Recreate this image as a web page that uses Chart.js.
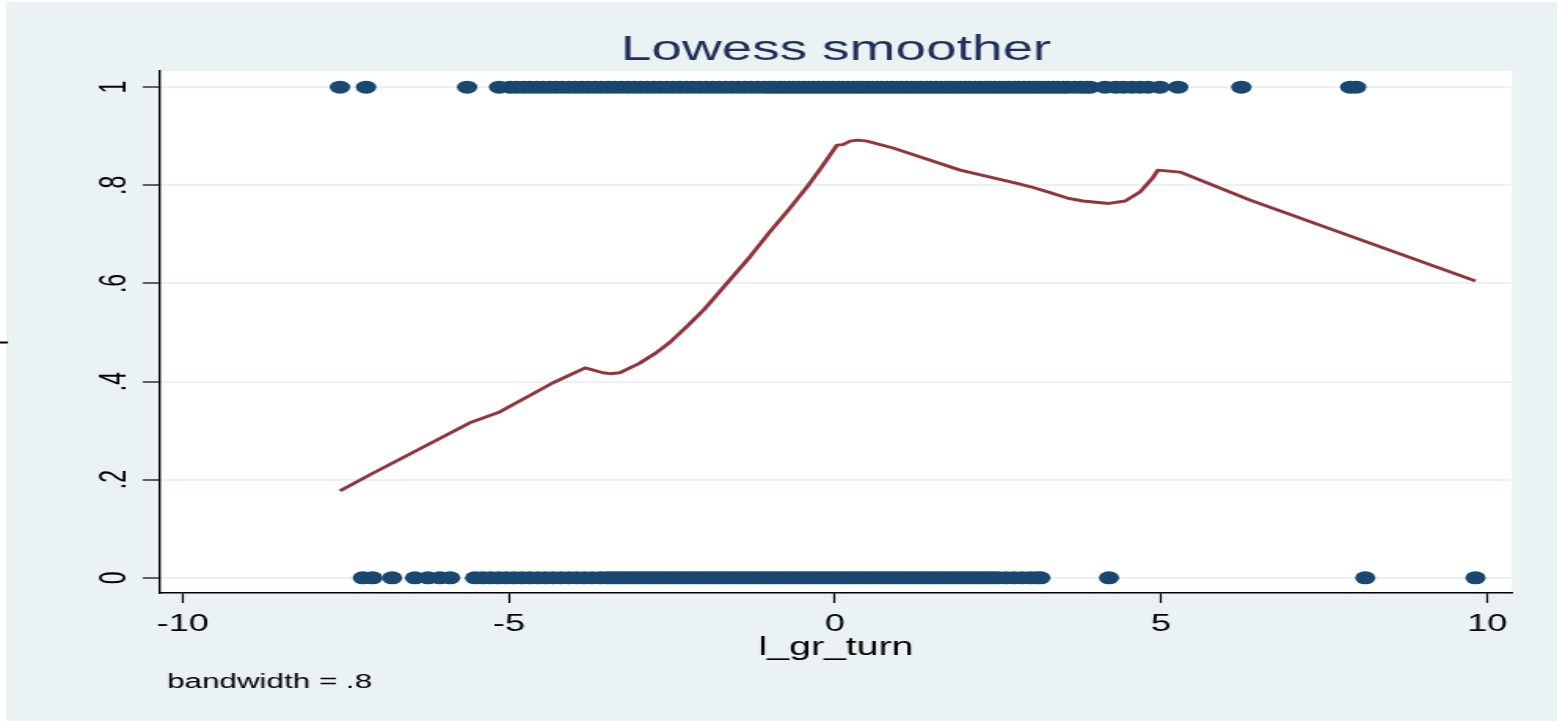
<!DOCTYPE html>
<html>
<head>
<meta charset="utf-8">
<script src="https://cdn.jsdelivr.net/npm/chart.js@4.4.1/dist/chart.umd.min.js"></script>
<style>
  html, body { margin: 0; padding: 0; background: #fff; overflow: hidden; }
  #wrap { width: 992px; height: 721px; transform: scaleX(1.5696); transform-origin: 0 0; }
</style>
</head>
<body>
<div id="wrap"><canvas id="lowess" width="992" height="721"></canvas></div>
<script>
// observations with outcome = 1
var topX = [-7.59, -7.19, -5.64, -5.15,
  -4.98, -4.88, -4.78, -4.68, -4.58, -4.48, -4.38, -4.28, -4.18, -4.08, -3.98, -3.88,
  -3.78, -3.68, -3.58, -3.48, -3.38, -3.28, -3.18, -3.08, -2.98, -2.88, -2.78, -2.68,
  -2.58, -2.48, -2.38, -2.28, -2.18, -2.08, -1.98, -1.88, -1.78, -1.68, -1.58, -1.48,
  -1.38, -1.28, -1.18, -1.08, -1.0, -0.93, -0.85, -0.78, -0.7, -0.63, -0.55, -0.48,
  -0.4, -0.33, -0.25, -0.18, -0.1, -0.03, 0.05, 0.12, 0.2, 0.27, 0.35, 0.42, 0.5, 0.57,
  0.65, 0.72, 0.8, 0.87, 0.95, 1.02, 1.1, 1.17, 1.25, 1.32, 1.4, 1.47, 1.55, 1.62, 1.7,
  1.77, 1.85, 1.92, 2.0, 2.07, 2.15, 2.22, 2.3, 2.37, 2.45, 2.52, 2.6, 2.67, 2.75, 2.82,
  2.9, 2.97, 3.05, 3.12, 3.2, 3.27, 3.35, 3.42, 3.5, 3.57, 3.67, 3.77, 3.85, 3.91,
  4.14, 4.3, 4.42, 4.55, 4.68, 4.8, 4.98, 5.26, 6.23, 7.9, 7.99];

// observations with outcome = 0
var bottomX = [-7.24, -7.09, -6.79, -6.44, -6.24, -6.06, -5.9,
  -5.52, -5.4, -5.28, -5.16, -5.04, -4.92, -4.8, -4.68, -4.56, -4.44, -4.32, -4.2,
  -4.08, -3.96, -3.84, -3.72, -3.6, -3.5, -3.43, -3.35, -3.28, -3.2, -3.13, -3.05,
  -2.98, -2.9, -2.83, -2.75, -2.68, -2.6, -2.53, -2.45, -2.38, -2.3, -2.23, -2.15,
  -2.08, -2.0, -1.93, -1.85, -1.78, -1.7, -1.63, -1.55, -1.48, -1.4, -1.33, -1.25,
  -1.18, -1.1, -1.03, -0.95, -0.88, -0.8, -0.73, -0.65, -0.58, -0.5, -0.43, -0.35,
  -0.28, -0.2, -0.13, -0.05, 0.02, 0.1, 0.17, 0.25, 0.32, 0.4, 0.47, 0.55, 0.62, 0.7,
  0.77, 0.85, 0.92, 1.0, 1.07, 1.15, 1.22, 1.3, 1.37, 1.45, 1.52, 1.6, 1.67, 1.75,
  1.82, 1.9, 1.97, 2.05, 2.12, 2.2, 2.27, 2.35, 2.42, 2.5, 2.62, 2.74, 2.86, 2.98,
  3.08, 3.15, 4.2, 8.13, 9.82];

// lowess curve
var curveX = [-7.59, -7.13, -5.6, -5.14, -4.33, -3.83, -3.56, -3.45, -3.3, -3.0, -2.75,
  -2.53, -2.25, -2.0, -1.66, -1.3, -1.0, -0.7, -0.41, -0.2, 0.03, 0.12, 0.23, 0.35, 0.49,
  0.89, 1.92, 2.79, 3.0, 3.3, 3.56, 3.8, 4.2, 4.45, 4.68, 4.87, 4.95, 5.29, 6.36, 9.82];
var curveY = [0.177, 0.21, 0.316, 0.338, 0.397, 0.428, 0.418, 0.416, 0.418, 0.437, 0.458,
  0.48, 0.515, 0.548, 0.6, 0.655, 0.705, 0.752, 0.8, 0.838, 0.882, 0.883, 0.89, 0.892, 0.89,
  0.876, 0.831, 0.804, 0.797, 0.785, 0.774, 0.768, 0.763, 0.768, 0.787, 0.815, 0.831, 0.827,
  0.77, 0.605];

var xTicks = [-10, -5, 0, 5, 10];
var xTickLabels = ['-10', '-5', '0', '5', '10'];
var yTicks = [0, 0.2, 0.4, 0.6, 0.8, 1];
var yTickLabels = ['0', '.2', '.4', '.6', '.8', '1'];

var FONT = '"Liberation Sans", Arial, sans-serif';
var BG = '#EAF2F3';

var backdrop = {
  id: 'backdrop',
  beforeDraw: function (chart) {
    var c = chart.ctx, a = chart.chartArea;
    c.save();
    c.fillStyle = '#fff';
    c.fillRect(0, 0, chart.width, chart.height);
    c.fillStyle = BG;
    c.fillRect(3.8, 2, chart.width, chart.height);
    c.fillStyle = '#fff';
    c.fillRect(a.left, a.top, a.right - a.left, a.bottom - a.top);
    c.restore();
  },
  afterDraw: function (chart) {
    var c = chart.ctx, a = chart.chartArea;
    c.save();
    c.fillStyle = '#000';
    c.font = '20px ' + FONT;
    c.textBaseline = 'alphabetic';
    c.textAlign = 'left';
    c.fillText('bandwidth = .8', a.left + 4.5, 688);
    // y title, cut by the left edge as in the original export
    c.translate(0, (a.top + a.bottom) / 2);
    c.rotate(-Math.PI / 2);
    c.textAlign = 'center';
    c.font = '25px ' + FONT;
    c.fillText('spell', 0, 0);
    c.restore();
  }
};

new Chart(document.getElementById('lowess'), {
  type: 'scatter',
  data: {
    datasets: [{
      data: topX.map(function (v) { return {x: v, y: 1}; }),
      backgroundColor: '#1A476F',
      borderWidth: 0,
      pointRadius: 6.5
    }, {
      data: bottomX.map(function (v) { return {x: v, y: 0}; }),
      backgroundColor: '#1A476F',
      borderWidth: 0,
      pointRadius: 6.5
    }, {
      type: 'line',
      data: curveX.map(function (v, i) { return {x: v, y: curveY[i]}; }),
      borderColor: '#90353B',
      borderWidth: 2.9,
      borderJoinStyle: 'round',
      pointRadius: 0,
      tension: 0,
      fill: false
    }]
  },
  options: {
    responsive: false,
    animation: false,
    layout: { padding: { left: 0, right: 28.7, top: 0, bottom: 0 } },
    plugins: {
      legend: { display: false },
      tooltip: { enabled: false },
      title: {
        display: true,
        text: 'Lowess smoother',
        fullSize: false,
        color: '#1E2F5A',
        font: { family: FONT, size: 35, weight: 'normal' },
        padding: { top: 29, bottom: 0 }
      }
    },
    scales: {
      x: {
        type: 'linear',
        min: -10.35,
        max: 10.38,
        afterBuildTicks: function (s) { s.ticks = xTicks.map(function (v) { return {value: v}; }); },
        afterFit: function (s) { s.height = 128; },
        grid: { drawOnChartArea: false, drawTicks: true, tickLength: 10, tickColor: '#000', tickWidth: 1.2 },
        border: { display: true, color: '#000', width: 1.4 },
        ticks: {
          color: '#000',
          padding: 8,
          maxRotation: 0,
          font: { family: FONT, size: 23 },
          callback: function (v, i) { return xTickLabels[i]; }
        },
        title: {
          display: true,
          text: 'l_gr_turn',
          color: '#000',
          font: { family: FONT, size: 25 },
          padding: { top: 0, bottom: 58 }
        }
      },
      y: {
        type: 'linear',
        min: -0.031,
        max: 1.033,
        afterBuildTicks: function (s) { s.ticks = yTicks.map(function (v) { return {value: v}; }); },
        afterFit: function (s) { s.width = 101.9; },
        grid: { color: BG, lineWidth: 2, drawTicks: true, tickLength: 11, tickColor: '#000', tickWidth: 1.2 },
        border: { display: true, color: '#000', width: 1.4 },
        ticks: {
          color: '#000',
          padding: 8,
          minRotation: 90,
          maxRotation: 90,
          crossAlign: 'center',
          font: { family: FONT, size: 23 },
          callback: function (v, i) { return yTickLabels[i]; }
        }
      }
    }
  },
  plugins: [backdrop]
});
</script>
</body>
</html>
